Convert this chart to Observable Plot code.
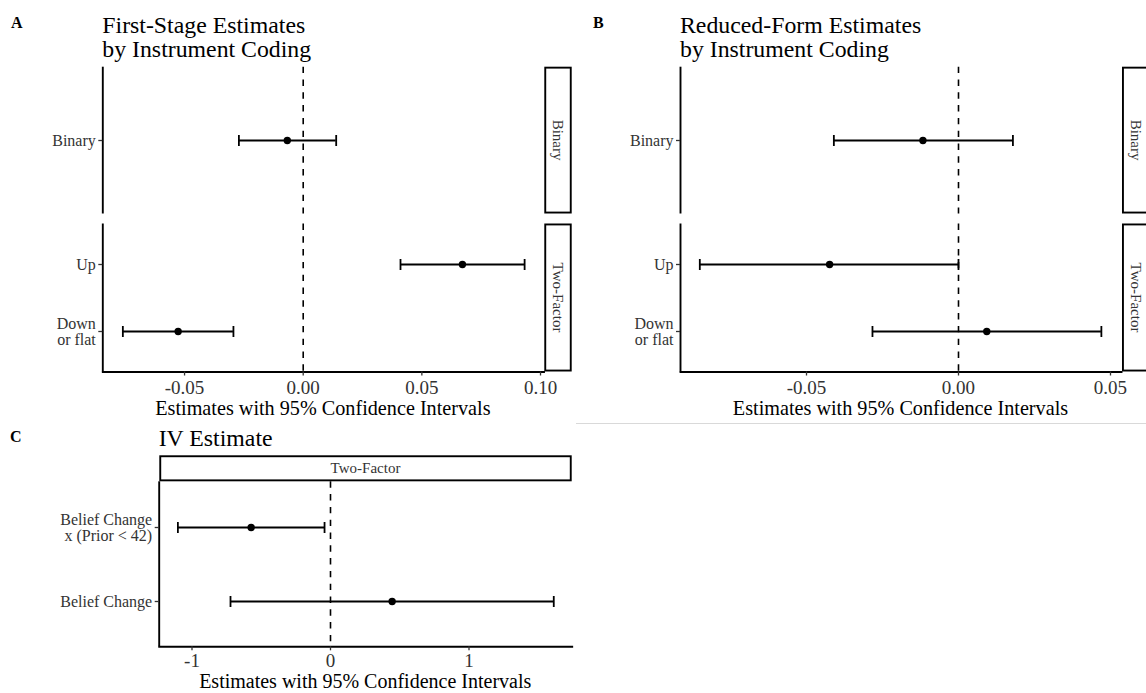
<!DOCTYPE html>
<html><head><meta charset="utf-8">
<script src="https://cdn.jsdelivr.net/npm/d3@7"></script>
<script src="https://cdn.jsdelivr.net/npm/@observablehq/plot@0.6"></script>
<style>
html,body{margin:0;padding:0;background:#fff;}
#page{position:relative;width:1146px;height:693px;overflow:hidden;font-family:"Liberation Serif",serif;background:#fff;}
#page svg{position:absolute;left:0;top:0;}
</style></head><body><div id="page"></div>
<script>
// ---------------- data ----------------
const firstStageLabels = ["Binary", "Up", "Down\nor flat"];
const firstStageFacet  = ["Binary", "Two-Factor", "Two-Factor"];
const firstStageEst = [-0.0067, 0.0671, -0.0527];
const firstStageLo  = [-0.0271, 0.0410, -0.0760];
const firstStageHi  = [ 0.0139, 0.0933, -0.0294];

const reducedLabels = ["Binary", "Up", "Down\nor flat"];
const reducedFacet  = ["Binary", "Two-Factor", "Two-Factor"];
const reducedEst = [-0.0117, -0.0424, 0.0093];
const reducedLo  = [-0.0410, -0.0851, -0.0283];
const reducedHi  = [ 0.0179,  0.0000,  0.0470];

const ivLabels = ["Belief Change\nx (Prior < 42)", "Belief Change"];
const ivFacet  = ["Two-Factor", "Two-Factor"];
const ivEst = [-0.573, 0.445];
const ivLo  = [-1.102, -0.722];
const ivHi  = [-0.043, 1.612];

const ticksA = [-0.05, 0, 0.05, 0.10];
const ticksB = [-0.05, 0, 0.05];
const ticksC = [-1, 0, 1];
const domainA = [-0.08445, 0.10147];
const domainB = [-0.09145, 0.05362];
const domainC = [-1.2368, 1.7451];

const axisTitle = "Estimates with 95% Confidence Intervals";

// ---------------- helpers ----------------
const W = 1146, H = 693;
const FONT = "Liberation Serif, serif";
const page = document.getElementById("page");

function rows(labels, facet, est, lo, hi, f) {
  return labels.map((l, i) => ({label: l, facet: facet[i], est: est[i], lo: lo[i], hi: hi[i]}))
    .filter(d => d.facet === f);
}

const capSymbol = {
  draw(context, size) {
    const h = Math.sqrt(size / Math.PI);
    context.moveTo(0, -h);
    context.lineTo(0, h);
  }
};

function facetPlot({data, yDomain, xDomain, left, right, top, bottom, xTicks, xFormat, showX, tickPad = 4}) {
  const marks = [
    Plot.ruleX([0], {stroke: "black", strokeWidth: 1.6, strokeDasharray: "6.4,6.4"}),
    Plot.ruleX([xDomain[0]], {stroke: "black", strokeWidth: 1.9}),
    Plot.ruleY(data, {y: "label", x1: "lo", x2: "hi", stroke: "black", strokeWidth: 1.8}),
    Plot.dot(data, {x: "lo", y: "label", symbol: capSymbol, r: 5.5, stroke: "black", strokeWidth: 1.8, fill: "none"}),
    Plot.dot(data, {x: "hi", y: "label", symbol: capSymbol, r: 5.5, stroke: "black", strokeWidth: 1.8, fill: "none"}),
    Plot.dot(data, {x: "est", y: "label", r: 3.7, fill: "black", stroke: "none"}),
    Plot.axisY({tickSize: 4, tickPadding: 3, fontSize: 16, color: "#333", strokeWidth: 1.3, label: null, lineHeight: 1.0})
  ];
  if (showX) {
    marks.push(Plot.frame({anchor: "bottom", stroke: "black", strokeWidth: 1.9}));
    marks.push(Plot.axisX({ticks: xTicks, tickFormat: xFormat, tickSize: 4, tickPadding: tickPad, fontSize: 19, color: "#333", strokeWidth: 1.3, label: null}));
  }
  return Plot.plot({
    width: W, height: H,
    marginLeft: left, marginRight: W - right, marginTop: top, marginBottom: H - bottom,
    x: {domain: xDomain, nice: false, axis: showX ? undefined : null},
    y: {type: "point", domain: yDomain, padding: 0.6},
    style: {fontFamily: FONT, background: "transparent", color: "#222", overflow: "visible"},
    marks
  });
}

const fmt2 = d => d.toFixed(2);
const fmt0 = d => String(d);

// Panel A
page.appendChild(facetPlot({data: rows(firstStageLabels, firstStageFacet, firstStageEst, firstStageLo, firstStageHi, "Binary"),
  yDomain: ["Binary"], xDomain: domainA, left: 102.3, right: 543.5, top: 66.7, bottom: 213.5, showX: false}));
page.appendChild(facetPlot({data: rows(firstStageLabels, firstStageFacet, firstStageEst, firstStageLo, firstStageHi, "Two-Factor"),
  yDomain: ["Up", "Down\nor flat"], xDomain: domainA, left: 102.3, right: 543.5, top: 223.5, bottom: 371.5, showX: true, xTicks: ticksA, xFormat: fmt2}));
// Panel B
page.appendChild(facetPlot({data: rows(reducedLabels, reducedFacet, reducedEst, reducedLo, reducedHi, "Binary"),
  yDomain: ["Binary"], xDomain: domainB, left: 680, right: 1121, top: 66.7, bottom: 213.5, showX: false}));
page.appendChild(facetPlot({data: rows(reducedLabels, reducedFacet, reducedEst, reducedLo, reducedHi, "Two-Factor"),
  yDomain: ["Up", "Down\nor flat"], xDomain: domainB, left: 680, right: 1121, top: 223.5, bottom: 371.5, showX: true, xTicks: ticksB, xFormat: fmt2}));
// Panel C
const cTop = 481.3, cBottom = 646.3;
page.appendChild(facetPlot({data: rows(ivLabels, ivFacet, ivEst, ivLo, ivHi, "Two-Factor"),
  yDomain: ivLabels, xDomain: domainC, left: 158.7, right: 571.7, top: cTop, bottom: cBottom, showX: true, xTicks: ticksC, xFormat: fmt0, tickPad: 3}));

// ---------------- overlay: titles, strips, labels ----------------
const svg = d3.create("svg").attr("width", W).attr("height", H)
  .attr("font-family", FONT).style("overflow", "hidden");

svg.append("line").attr("x1", 576).attr("x2", W).attr("y1", 423.5).attr("y2", 423.5)
  .attr("stroke", "#d9d9d9").attr("stroke-width", 1);

function txt(x, y, s, opts = {}) {
  const t = svg.append("text").attr("x", x).attr("y", y).text(s)
    .attr("font-size", opts.size || 16).attr("fill", opts.fill || "#000");
  if (opts.weight) t.attr("font-weight", opts.weight);
  if (opts.anchor) t.attr("text-anchor", opts.anchor);
  if (opts.baseline) t.attr("dominant-baseline", opts.baseline);
  if (opts.rotate) t.attr("transform", `rotate(${opts.rotate},${x},${y})`);
  return t;
}

// panel tags
txt(11, 28.3, "A", {size: 16, weight: "bold"});
txt(593, 28.3, "B", {size: 16, weight: "bold"});
txt(10, 441.8, "C", {size: 16, weight: "bold"});

// titles
txt(102.3, 33.3, "First-Stage Estimates", {size: 23.8});
txt(102.3, 56.9, "by Instrument Coding", {size: 23.8});
txt(680, 33.3, "Reduced-Form Estimates", {size: 23.8});
txt(680, 56.9, "by Instrument Coding", {size: 23.8});
txt(158.7, 445.5, "IV Estimate", {size: 23.8});

// axis titles
txt((102.3 + 543.5) / 2, 415, axisTitle, {size: 20.2, anchor: "middle"});
txt((680 + 1121) / 2, 415, axisTitle, {size: 20.2, anchor: "middle"});
txt((158.7 + 571.7) / 2, 688.4, axisTitle, {size: 20, anchor: "middle"});

// strips
function strip(x0, x1, y0, y1, label, vertical) {
  svg.append("rect").attr("x", x0 + 0.95).attr("y", y0 + 0.95)
    .attr("width", x1 - x0 - 1.9).attr("height", y1 - y0 - 1.9)
    .attr("fill", "white").attr("stroke", "black").attr("stroke-width", 1.9);
  const cx = (x0 + x1) / 2, cy = (y0 + y1) / 2;
  txt(cx, cy, label, {size: 15, fill: "#333", anchor: "middle", baseline: "central", rotate: vertical ? 90 : 0});
}
strip(544.3, 571.7, 66.7, 213.5, firstStageFacet[0], true);
strip(544.3, 571.7, 223.5, 371.5, firstStageFacet[1], true);
strip(1122, 1149.4, 66.7, 213.5, reducedFacet[0], true);
strip(1122, 1149.4, 223.5, 371.5, reducedFacet[1], true);
strip(159.3, 571.7, cTop - 26, cTop, ivFacet[0], false);

page.appendChild(svg.node());
</script></body></html>
